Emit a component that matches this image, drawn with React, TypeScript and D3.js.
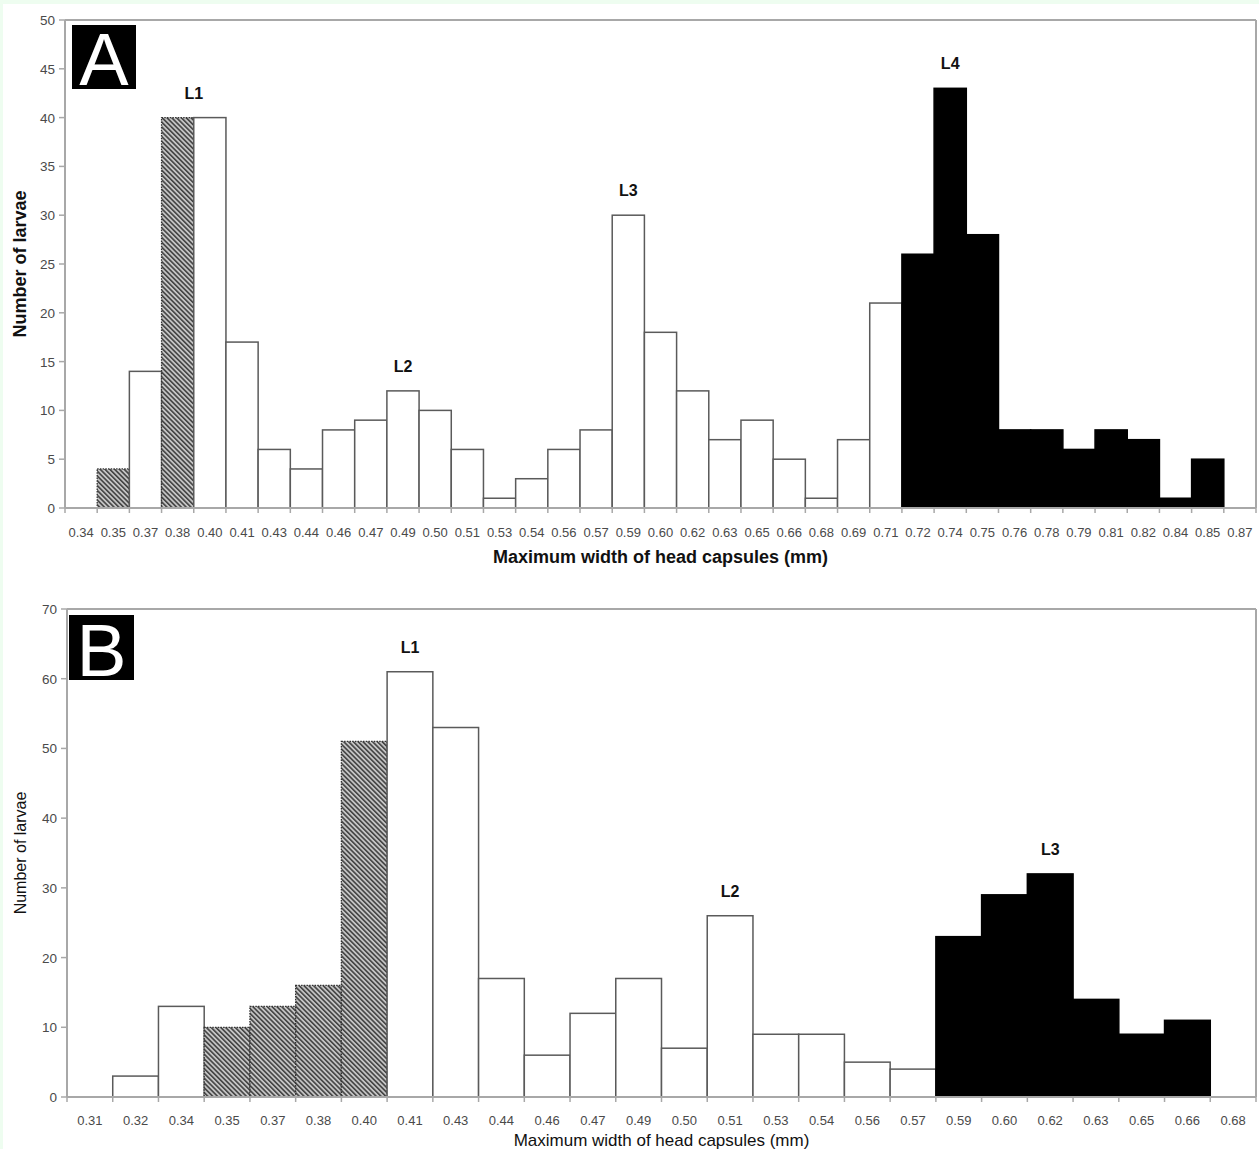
import React from "react";
import * as d3 from "d3";

// ---------- Data: panel A ----------
const catsA = [
  "0.34", "0.35", "0.37", "0.38", "0.40", "0.41", "0.43", "0.44", "0.46", "0.47",
  "0.49", "0.50", "0.51", "0.53", "0.54", "0.56", "0.57", "0.59", "0.60", "0.62",
  "0.63", "0.65", "0.66", "0.68", "0.69", "0.71", "0.72", "0.74", "0.75", "0.76",
  "0.78", "0.79", "0.81", "0.82", "0.84", "0.85", "0.87",
];
const countsA = [
  0, 4, 14, 40, 40, 17, 6, 4, 8, 9,
  12, 10, 6, 1, 3, 6, 8, 30, 18, 12,
  7, 9, 5, 1, 7, 21, 26, 43, 28, 8,
  8, 6, 8, 7, 1, 5, 0,
];
const hatchedA = ["0.35", "0.38"];
const blackA = ["0.72", "0.74", "0.75", "0.76", "0.78", "0.79", "0.81", "0.82", "0.84", "0.85"];
const yTicksA = [0, 5, 10, 15, 20, 25, 30, 35, 40, 45, 50];
const stagesA = ["L1", "L2", "L3", "L4"];
const stagePeaksA = [["0.38", "0.40"], ["0.49"], ["0.59"], ["0.74"]];

// ---------- Data: panel B ----------
const catsB = [
  "0.31", "0.32", "0.34", "0.35", "0.37", "0.38", "0.40", "0.41", "0.43", "0.44",
  "0.46", "0.47", "0.49", "0.50", "0.51", "0.53", "0.54", "0.56", "0.57", "0.59",
  "0.60", "0.62", "0.63", "0.65", "0.66", "0.68",
];
const countsB = [
  0, 3, 13, 10, 13, 16, 51, 61, 53, 17,
  6, 12, 17, 7, 26, 9, 9, 5, 4, 23,
  29, 32, 14, 9, 11, 0,
];
const hatchedB = ["0.35", "0.37", "0.38", "0.40"];
const blackB = ["0.59", "0.60", "0.62", "0.63", "0.65", "0.66"];
const yTicksB = [0, 10, 20, 30, 40, 50, 60, 70];
const stagesB = ["L1", "L2", "L3"];
const stagePeaksB = [["0.41"], ["0.51"], ["0.62"]];

const xTitle = "Maximum width of head capsules (mm)";
const yTitle = "Number of larvae";

const FONT = "'Liberation Sans', Arial, Helvetica, sans-serif";

type PanelProps = {
  letter: string;
  cats: string[];
  counts: number[];
  hatched: string[];
  black: string[];
  yTicks: number[];
  stages: string[];
  stagePeaks: string[][];
  left: number;
  right: number;
  top: number;
  bottom: number;
  boldTitles: boolean;
  xTickY: number;
  xTitleY: number;
  box: { dx: number; dy: number; size: number; font: number };
};

function Panel(p: PanelProps) {
  const x = d3.scaleBand<string>().domain(p.cats).range([p.left, p.right]).padding(0);
  const yMax = p.yTicks[p.yTicks.length - 1];
  const y = d3.scaleLinear().domain([0, yMax]).range([p.bottom, p.top]);
  const bw = x.bandwidth();
  const axisColor = "#a8a8a8";
  const tickTextColor = "#4a4a4a";
  const boundaries = p.cats.map((c) => x(c) as number).concat([p.right]);

  return (
    <g>
      {/* bars */}
      {p.cats.map((c, i) => {
        const v = p.counts[i];
        if (!v) return null;
        const isH = p.hatched.includes(c);
        const isB = p.black.includes(c);
        const x0 = x(c) as number;
        const y0 = y(v);
        return (
          <rect
            key={c}
            x={x0}
            y={y0}
            width={bw}
            height={p.bottom - y0}
            fill={isB ? "#000" : isH ? "url(#hatch)" : "#fff"}
            stroke={isB ? "#000" : isH ? "#333" : "#5a5a5a"}
            strokeWidth={isH ? 1.3 : 1.5}
            strokeDasharray={isH ? "1.5 1.2" : undefined}
          />
        );
      })}

      {/* frame */}
      <line x1={p.left} x2={p.right} y1={p.top} y2={p.top} stroke={axisColor} strokeWidth={2} />
      <line x1={p.right} x2={p.right} y1={p.top} y2={p.bottom} stroke={axisColor} strokeWidth={2} />
      <line x1={p.left} x2={p.left} y1={p.top} y2={p.bottom} stroke={axisColor} strokeWidth={2} />
      <line x1={p.left} x2={p.right} y1={p.bottom} y2={p.bottom} stroke={axisColor} strokeWidth={2} />

      {/* y ticks */}
      {p.yTicks.map((t) => (
        <g key={"y" + t}>
          <line x1={p.left - 6} x2={p.left} y1={y(t)} y2={y(t)} stroke={axisColor} strokeWidth={1.5} />
          <text
            x={p.left - 10}
            y={y(t) + 5}
            textAnchor="end"
            fontSize={13.5}
            fill={tickTextColor}
            fontFamily={FONT}
          >
            {t}
          </text>
        </g>
      ))}

      {/* x ticks at bin boundaries */}
      {boundaries.map((bx, i) => (
        <line key={"xt" + i} x1={bx} x2={bx} y1={p.bottom} y2={p.bottom + 5} stroke={axisColor} strokeWidth={1.5} />
      ))}
      {p.cats.map((c) => (
        <text
          key={"xl" + c}
          x={(x(c) as number) + bw / 2}
          y={p.xTickY}
          textAnchor="middle"
          fontSize={13}
          fill={tickTextColor}
          fontFamily={FONT}
        >
          {c}
        </text>
      ))}

      {/* axis titles */}
      <text
        x={(p.left + p.right) / 2}
        y={p.xTitleY}
        textAnchor="middle"
        fontSize={p.boldTitles ? 18 : 17}
        fontWeight={p.boldTitles ? "bold" : "normal"}
        fill="#111"
        fontFamily={FONT}
      >
        {xTitle}
      </text>
      <text
        transform={`translate(${26}, ${(p.top + p.bottom) / 2}) rotate(-90)`}
        textAnchor="middle"
        fontSize={p.boldTitles ? 18 : 16}
        fontWeight={p.boldTitles ? "bold" : "normal"}
        fill="#111"
        fontFamily={FONT}
      >
        {yTitle}
      </text>

      {/* stage labels */}
      {p.stages.map((s, i) => {
        const peaks = p.stagePeaks[i];
        const cx = d3.mean(peaks, (c) => (x(c) as number) + bw / 2) as number;
        const top = d3.max(peaks, (c) => p.counts[p.cats.indexOf(c)]) as number;
        return (
          <text
            key={s}
            x={cx}
            y={y(top) - 19}
            textAnchor="middle"
            fontSize={16}
            fontWeight="bold"
            fill="#111"
            fontFamily={FONT}
          >
            {s}
          </text>
        );
      })}

      {/* panel letter */}
      <rect
        x={p.left + p.box.dx}
        y={p.top + p.box.dy}
        width={p.box.size}
        height={p.box.size}
        fill="#000"
      />
      <text
        x={p.left + p.box.dx + p.box.size / 2}
        y={p.top + p.box.dy + p.box.size - 4}
        textAnchor="middle"
        fontSize={p.box.font}
        fill="#fff"
        fontFamily={FONT}
      >
        {p.letter}
      </text>
    </g>
  );
}

export default function App() {
  const W = 1259;
  const H = 1149;
  return (
    <svg
      width={W}
      height={H}
      viewBox={`0 0 ${W} ${H}`}
      style={{ position: "absolute", left: 0, top: 0, display: "block" }}
    >
      <defs>
        <pattern id="hatch" width="3.4" height="3.4" patternUnits="userSpaceOnUse" patternTransform="rotate(-45)">
          <rect width="3.4" height="3.4" fill="#c4c4c4" />
          <line x1="0.8" y1="0" x2="0.8" y2="3.4" stroke="#3a3a3a" strokeWidth="1.5" />
        </pattern>
      </defs>
      <rect x={0} y={0} width={W} height={H} fill="#eefdf0" />
      <rect x={3} y={4} width={W - 3} height={H - 4} fill="#fff" />

      <Panel
        letter="A"
        cats={catsA}
        counts={countsA}
        hatched={hatchedA}
        black={blackA}
        yTicks={yTicksA}
        stages={stagesA}
        stagePeaks={stagePeaksA}
        left={65}
        right={1256}
        top={20}
        bottom={508}
        boldTitles={true}
        xTickY={537}
        xTitleY={563}
        box={{ dx: 7, dy: 5, size: 64, font: 74 }}
      />
      <Panel
        letter="B"
        cats={catsB}
        counts={countsB}
        hatched={hatchedB}
        black={blackB}
        yTicks={yTicksB}
        stages={stagesB}
        stagePeaks={stagePeaksB}
        left={67}
        right={1256}
        top={609}
        bottom={1097}
        boldTitles={false}
        xTickY={1125}
        xTitleY={1146}
        box={{ dx: 2, dy: 6, size: 65, font: 75 }}
      />
    </svg>
  );
}
